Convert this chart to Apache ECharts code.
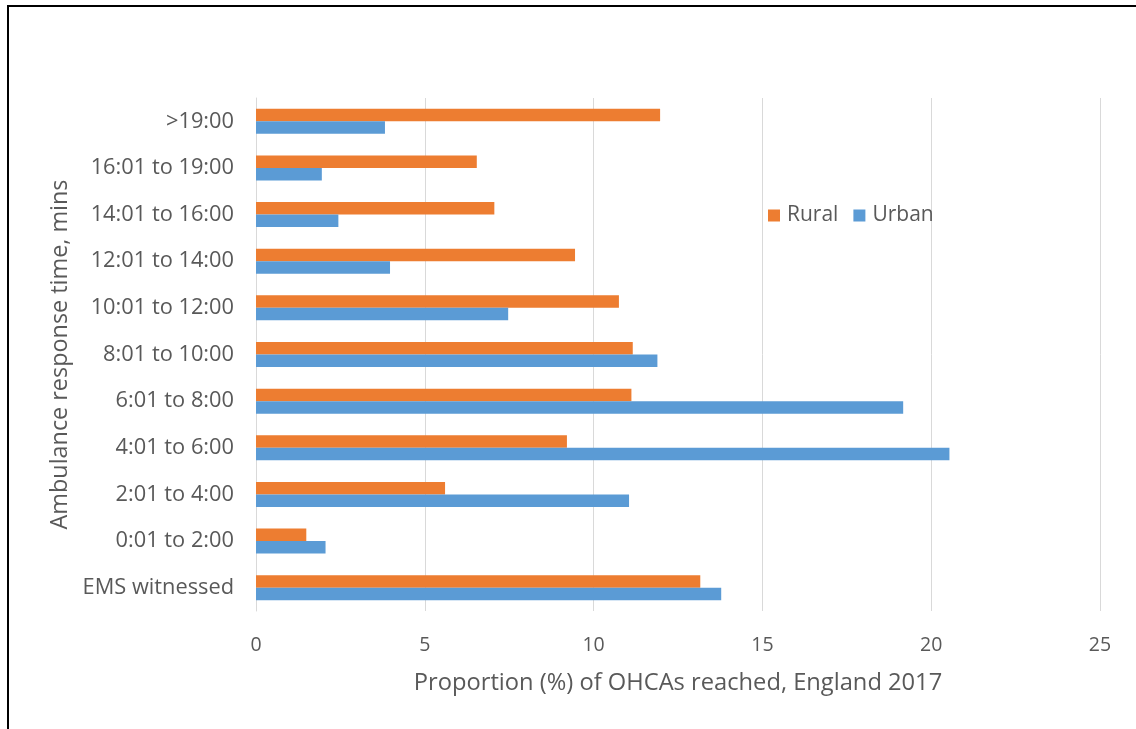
<!DOCTYPE html>
<html>
<head>
<meta charset="utf-8">
<script src="https://cdn.jsdelivr.net/npm/echarts@6/dist/echarts.min.js"></script>
<style>
  html, body { margin: 0; padding: 0; background: #fff; }
  #chart { width: 1136px; height: 729px; }
</style>
</head>
<body>
<div id="chart"></div>
<script>
// Response-time bands, bottom to top
const categories = [
  'EMS witnessed', '0:01 to 2:00', '2:01 to 4:00', '4:01 to 6:00',
  '6:01 to 8:00', '8:01 to 10:00', '10:01 to 12:00', '12:01 to 14:00',
  '14:01 to 16:00', '16:01 to 19:00', '>19:00'
];
// Proportion (%) of OHCAs reached
const rural = [13.16, 1.49, 5.6, 9.21, 11.12, 11.16, 10.75, 9.45, 7.06, 6.54, 11.97];
const urban = [13.78, 2.06, 11.05, 20.54, 19.17, 11.89, 7.47, 3.97, 2.44, 1.95, 3.82];
const xTicks = [0, 5, 10, 15, 20, 25];

const FONT = 'Open Sans';
const TEXT = '#595959';
const GRID = '#d9d9d9';

const chart = echarts.init(document.getElementById('chart'), null, { renderer: 'canvas' });
chart.setOption({
  animation: false,
  backgroundColor: '#fff',
  textStyle: { fontFamily: FONT, color: TEXT },
  graphic: [{
    type: 'rect',
    shape: { x: 8, y: 6, width: 1300, height: 900 },
    style: { fill: 'none', stroke: '#000', lineWidth: 2 },
    silent: true
  }],
  grid: { left: 256, right: 36, top: 98, bottom: 118, containLabel: false },
  legend: {
    data: ['Rural', 'Urban'],
    left: 768, top: 205, padding: 0,
    itemWidth: 12, itemHeight: 12, itemGap: 15,
    icon: 'rect',
    textStyle: { fontFamily: FONT, fontSize: 21, color: TEXT, padding: [0, 0, 0, 2] }
  },
  xAxis: {
    type: 'value',
    min: xTicks[0], max: xTicks[xTicks.length - 1], interval: 5,
    axisLine: { show: false },
    axisTick: { show: false },
    splitLine: { show: true, lineStyle: { color: GRID, width: 1 } },
    axisLabel: { fontFamily: FONT, fontSize: 19.5, color: TEXT, margin: 24 },
    name: 'Proportion (%) of OHCAs reached, England 2017',
    nameLocation: 'middle', nameGap: 60,
    nameTextStyle: { fontFamily: FONT, fontSize: 23.7, color: TEXT }
  },
  yAxis: {
    type: 'category',
    data: categories,
    axisLine: { show: true, lineStyle: { color: GRID, width: 1 } },
    axisTick: { show: false },
    axisLabel: { fontFamily: FONT, fontSize: 21.8, color: TEXT, margin: 22 },
    name: 'Ambulance response time, mins',
    nameLocation: 'middle', nameGap: 182,
    nameTextStyle: { fontFamily: FONT, fontSize: 23.4, color: TEXT }
  },
  series: [
    {
      name: 'Rural', type: 'bar', data: rural,
      barWidth: 12.5, barGap: '0%',
      itemStyle: { color: '#ED7D31' }
    },
    {
      name: 'Urban', type: 'bar', data: urban,
      barWidth: 12.5, barGap: '0%',
      itemStyle: { color: '#5B9BD5' }
    }
  ]
});
</script>
</body>
</html>
